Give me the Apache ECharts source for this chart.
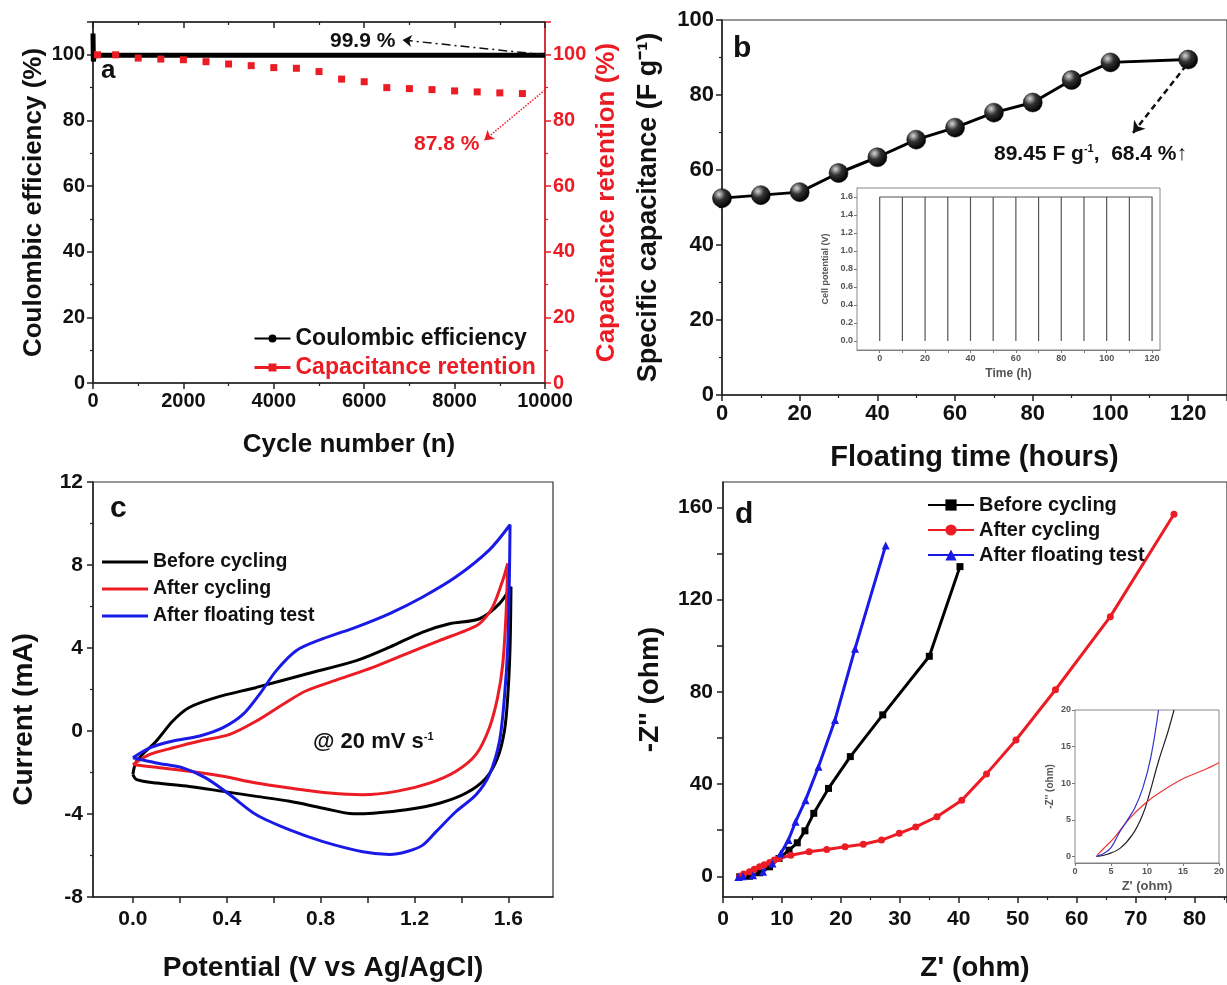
<!DOCTYPE html>
<html>
<head>
<meta charset="utf-8">
<script src="https://cdn.jsdelivr.net/npm/echarts@6/dist/echarts.min.js"></script>
<style>
  html, body { margin: 0; padding: 0; background: #fff; }
  #main { width: 1227px; height: 985px; }
</style>
</head>
<body>
<div id="main"></div>
<script>
// ---- panel a : cycling stability ----
var ceCycles = [0, 8, 30, 10000];
var ceValues = [106.5, 98, 99.9, 99.9];
var retCycles = [100, 500, 1000, 1500, 2000, 2500, 3000, 3500, 4000, 4500, 5000, 5500, 6000, 6500, 7000, 7500, 8000, 8500, 9000, 9500];
var retValues = [100, 100, 99.0, 98.7, 98.5, 97.9, 97.2, 96.7, 96.1, 95.9, 94.9, 92.6, 91.8, 90.0, 89.7, 89.4, 89.0, 88.7, 88.4, 88.2];

// ---- panel b : floating test ----
var floatHours = [0, 10, 20, 30, 40, 50, 60, 70, 80, 90, 100, 120];
var specCap = [52.5, 53.3, 54.1, 59.2, 63.4, 68.1, 71.3, 75.3, 78.0, 84.0, 88.7, 89.45];
var floatSteps = [0, 10, 20, 30, 40, 50, 60, 70, 80, 90, 100, 110, 120];
var cellHigh = 1.6, cellLow = 0;

// ---- panel c : CV at 20 mV/s  [potential V, current mA] ----
var cvBefore = [[0.0,-2.10],[0.016,-1.45],[0.10,-0.48],[0.17,0.48],[0.24,1.13],[0.356,1.62],[0.526,2.10],[0.739,2.75],[0.952,3.39],[1.094,4.04],[1.235,4.77],[1.349,5.17],[1.477,5.41],[1.562,6.14],[1.611,6.95],
  [1.607,4.04],[1.597,1.62],[1.583,0],[1.554,-1.29],[1.505,-2.26],[1.42,-2.99],[1.306,-3.48],[1.165,-3.80],[1.023,-3.96],[0.94,-3.99],[0.81,-3.72],[0.668,-3.39],[0.526,-3.15],[0.384,-2.91],[0.24,-2.67],[0.10,-2.51],[0.016,-2.34],[0.0,-2.10]];
var cvAfterCyc = [[0.0,-1.62],[0.072,-1.13],[0.171,-0.81],[0.285,-0.48],[0.413,-0.16],[0.526,0.48],[0.64,1.29],[0.739,1.94],[0.881,2.51],[1.023,3.07],[1.165,3.72],[1.306,4.36],[1.42,4.85],[1.477,5.17],[1.533,5.98],[1.576,7.27],[1.597,8.08],
  [1.59,5.66],[1.576,3.23],[1.554,1.62],[1.519,0.16],[1.462,-1.13],[1.377,-1.94],[1.264,-2.51],[1.122,-2.91],[0.98,-3.07],[0.838,-2.99],[0.668,-2.75],[0.526,-2.51],[0.384,-2.18],[0.24,-1.94],[0.10,-1.75],[0.0,-1.62]];
var cvAfterFloat = [[0.0,-1.29],[0.072,-0.81],[0.171,-0.48],[0.285,-0.24],[0.384,0.16],[0.47,0.81],[0.54,1.78],[0.611,2.91],[0.697,3.88],[0.81,4.45],[0.952,5.01],[1.094,5.66],[1.235,6.46],[1.377,7.43],[1.519,8.73],[1.607,9.94],
  [1.604,7.27],[1.597,4.04],[1.583,1.62],[1.562,-0.48],[1.519,-2.10],[1.462,-3.07],[1.377,-3.88],[1.292,-4.85],[1.235,-5.50],[1.165,-5.82],[1.094,-5.95],[0.98,-5.82],[0.81,-5.33],[0.668,-4.77],[0.526,-4.04],[0.413,-3.07],[0.31,-2.26],[0.213,-1.78],[0.10,-1.54],[0.0,-1.29]];

// ---- panel d : Nyquist  [Z' ohm, -Z'' ohm] ----
var eisBefore = [[2.8,-0.3],[4.5,0],[6.2,1.5],[7.9,4.1],[9.5,7.7],[11.2,11.3],[12.6,14.5],[13.9,19.7],[15.4,27.3],[17.9,38.1],[21.6,51.9],[27.1,70.0],[35.0,95.4],[40.2,134.3]];
var eisAfterCyc = [[2.8,0],[3.5,1],[4.5,1.9],[5.3,3],[6.2,4.1],[7,5],[7.9,6],[8.7,7],[9.5,7.7],[11.5,9.1],[14.6,10.6],[17.6,11.6],[20.7,12.8],[23.8,13.9],[26.9,15.7],[29.9,18.6],[32.7,21.4],[36.3,25.8],[40.5,33],[44.7,44.4],[49.7,59.1],[56.4,80.9],[65.7,112.6],[76.5,157]];
var eisAfterFloat = [[2.6,-0.3],[3.4,0],[5.1,0.4],[6.8,1.9],[8.4,5.5],[9.8,9.9],[11.1,15.7],[12.3,23.6],[14.0,33.0],[16.2,47.5],[19.0,67.8],[22.4,98.7],[27.6,143.5]];
var zoomBefore = [[3.1,0],[4.5,0.3],[6.25,1.1],[8.0,3.0],[9.4,5.7],[10.3,8.4],[11.6,13],[12.9,17],[13.75,20]];
var zoomAfterCyc = [[3.1,0.2],[4.2,1.3],[5.4,2.5],[7.6,5.2],[9.8,7.3],[12.05,8.9],[15.2,10.7],[17.9,11.8],[20,12.8]];
var zoomAfterFloat = [[2.9,0],[4,0.4],[5,1.2],[6.25,3.4],[7.3,5],[8.3,6.6],[9.4,9.3],[10.5,13.4],[11.6,20]];

var RED = '#ec1c24', BLUE = '#1a1ae6', BLK = '#000';
var FONT = '"Liberation Sans", Arial, sans-serif';

function merge(a, b) {
    var o = Object.assign({}, a);
    for (var k in b) {
        if (b[k] && typeof b[k] === 'object' && !Array.isArray(b[k]) && a[k] && typeof a[k] === 'object') o[k] = merge(a[k], b[k]);
        else o[k] = b[k];
    }
    return o;
}
var baseAxis = {
    type: 'value', splitLine: {show: false},
    axisLine: {show: true, onZero: false, lineStyle: {color: '#222', width: 1.5}},
    axisTick: {show: true, inside: false, length: 6, lineStyle: {color: '#222', width: 1.5}},
    axisLabel: {color: '#111', fontFamily: FONT, fontWeight: 'bold', fontSize: 20, margin: 8},
    nameLocation: 'middle',
    nameTextStyle: {color: '#111', fontFamily: FONT, fontWeight: 'bold', fontSize: 27}
};
function ax(o) { return merge(baseAxis, o); }
var minor2 = {show: true, splitNumber: 2, length: 3, lineStyle: {color: '#222', width: 1.2}};
var inset = {
    axisLine: {lineStyle: {color: '#777', width: 1}},
    axisTick: {length: 3, lineStyle: {color: '#777', width: 1}},
    axisLabel: {color: '#555', fontSize: 9, margin: 4},
    nameTextStyle: {color: '#555', fontSize: 10}
};
var fmt1 = function (v) { return v.toFixed(1); };
var plain = function (v) { return String(v); };

// inset b path: held at cellHigh, dipping to cellLow at every step
var floatPath = [];
floatSteps.forEach(function (t, i) {
    if (i === 0) { floatPath.push([t, cellLow], [t, cellHigh]); }
    else { floatPath.push([t, cellHigh], [t, cellLow], [t, cellHigh]); }
});

var sphere = new echarts.graphic.RadialGradient(0.35, 0.3, 0.7, [
    {offset: 0, color: '#d8d8d8'}, {offset: 0.45, color: '#333'}, {offset: 1, color: '#000'}]);

var option = {
    animation: false,
    backgroundColor: '#fff',
    grid: [
        {left: 93, top: 22, width: 452, height: 361, show: true, borderColor: '#333', borderWidth: 1.2},
        {left: 722, top: 20, width: 512, height: 375, show: true, borderColor: '#333', borderWidth: 1.2},
        {left: 93, top: 482, width: 460, height: 415, show: true, borderColor: '#333', borderWidth: 1.2},
        {left: 723, top: 482, width: 510, height: 415, show: true, borderColor: '#333', borderWidth: 1.2},
        {left: 857, top: 188, width: 303, height: 162, show: true, borderColor: '#888', borderWidth: 1, backgroundColor: '#fff', z: 3},
        {left: 1075, top: 710, width: 150, height: 153, show: true, borderColor: '#888', borderWidth: 1, backgroundColor: '#fff', z: 3}
    ],
    xAxis: [
        ax({gridIndex: 0, min: 0, max: 10000, interval: 2000, minorTick: minor2, axisLabel: {formatter: plain},
            name: 'Cycle number (n)', nameGap: 49, nameTextStyle: {fontSize: 26, padding: [0, 0, 0, 60]}}),
        ax({gridIndex: 0, position: 'top', min: 0, max: 10000, interval: 2000, minorTick: minor2, axisTick: {inside: true}, axisLabel: {show: false}}),
        ax({gridIndex: 1, min: 0, max: 130, interval: 20, minorTick: minor2, axisLabel: {customValues: [0, 20, 40, 60, 80, 100, 120], fontSize: 22},
            name: 'Floating time (hours)', nameGap: 48, nameTextStyle: {fontSize: 29}}),
        ax({gridIndex: 2, min: -0.17, max: 1.79, axisLabel: {customValues: [0, 0.4, 0.8, 1.2, 1.6], formatter: fmt1, fontSize: 21, margin: 12},
            axisTick: {customValues: [0, 0.2, 0.4, 0.6, 0.8, 1.0, 1.2, 1.4, 1.6]}, name: 'Potential (V vs Ag/AgCl)', nameGap: 57, nameTextStyle: {fontSize: 28}}),
        ax({gridIndex: 3, min: 0, max: 85.5, interval: 10, minorTick: minor2, axisLabel: {customValues: [0, 10, 20, 30, 40, 50, 60, 70, 80], fontSize: 21, margin: 12},
            name: "Z' (ohm)", nameGap: 57, nameTextStyle: {fontSize: 28}}),
        ax(merge(inset, {gridIndex: 4, min: -10, max: 123.5, axisLabel: {customValues: [0, 20, 40, 60, 80, 100, 120]},
            axisTick: {customValues: [0, 10, 20, 30, 40, 50, 60, 70, 80, 90, 100, 110, 120]}, name: 'Time (h)', nameGap: 18, nameTextStyle: {fontSize: 12}})),
        ax(merge(inset, {gridIndex: 5, min: 0, max: 20, interval: 5, axisLabel: {fontSize: 9}, name: "Z' (ohm)", nameGap: 17, nameTextStyle: {fontSize: 13}}))
    ],
    yAxis: [
        ax({gridIndex: 0, min: 0, max: 110, interval: 20, minorTick: minor2, axisLabel: {customValues: [0, 20, 40, 60, 80, 100]},
            name: 'Coulombic efficiency (%)', nameGap: 46, nameTextStyle: {fontSize: 26}}),
        ax({gridIndex: 0, position: 'right', min: 0, max: 110, interval: 20, minorTick: merge(minor2, {lineStyle: {color: RED}}),
            axisLine: {lineStyle: {color: RED}}, axisTick: {lineStyle: {color: RED}},
            axisLabel: {customValues: [0, 20, 40, 60, 80, 100], color: RED}, name: 'Capacitance retention (%)', nameRotate: 90, nameGap: 49,
            nameTextStyle: {color: RED, fontSize: 26}}),
        ax({gridIndex: 1, min: 0, max: 100, interval: 20, minorTick: minor2, axisLabel: {fontSize: 22},
            name: 'Specific capacitance (F g⁻¹)', nameGap: 60, nameTextStyle: {fontSize: 27}}),
        ax({gridIndex: 2, min: -8, max: 12, interval: 4, minorTick: minor2, axisLabel: {fontSize: 21, margin: 10},
            name: 'Current (mA)', nameGap: 55, nameTextStyle: {fontSize: 28, padding: [0, 60, 0, 0]}}),
        ax({gridIndex: 3, min: -9, max: 171, axisLabel: {customValues: [0, 40, 80, 120, 160], fontSize: 21, margin: 10},
            axisTick: {customValues: [0, 20, 40, 60, 80, 100, 120, 140, 160]}, name: "-Z'' (ohm)", nameGap: 59, nameTextStyle: {fontSize: 28}}),
        ax(merge(inset, {gridIndex: 4, min: -0.1, max: 1.7, axisLabel: {customValues: [0, 0.2, 0.4, 0.6, 0.8, 1.0, 1.2, 1.4, 1.6], formatter: fmt1},
            axisTick: {customValues: [0, 0.2, 0.4, 0.6, 0.8, 1.0, 1.2, 1.4, 1.6]}, name: 'Cell potential (V)', nameGap: 27, nameTextStyle: {fontSize: 9}})),
        ax(merge(inset, {gridIndex: 5, min: -0.9, max: 20, axisLabel: {customValues: [0, 5, 10, 15, 20]},
            axisTick: {customValues: [0, 5, 10, 15, 20]}, name: "-Z'' (ohm)", nameGap: 20, nameTextStyle: {fontSize: 10}}))
    ],
    legend: [
        {left: 248, top: 322, orient: 'vertical', itemGap: 6, itemWidth: 36, itemHeight: 10,
            textStyle: {fontFamily: FONT, fontWeight: 'bold', fontSize: 23, color: '#111'},
            data: [{name: 'Coulombic efficiency'},
                {name: 'Capacitance retention', textStyle: {color: RED}, lineStyle: {width: 3, color: RED, opacity: 1}}]},
        {left: 97, top: 547, orient: 'vertical', itemGap: 7, itemWidth: 46, itemHeight: 3, icon: 'rect',
            formatter: function (n) { return n.slice(2); },
            textStyle: {fontFamily: FONT, fontWeight: 'bold', fontSize: 19.5, color: '#111'},
            data: ['c-Before cycling', 'c-After cycling', 'c-After floating test']},
        {left: 922, top: 490, orient: 'vertical', itemGap: 5, itemWidth: 46, itemHeight: 14, formatter: function (n) { return n.slice(2); },
            textStyle: {fontFamily: FONT, fontWeight: 'bold', fontSize: 20, color: '#111'},
            data: ['d-Before cycling', 'd-After cycling', 'd-After floating test']}
    ],
    series: [
        {name: 'Coulombic efficiency', type: 'line', xAxisIndex: 0, yAxisIndex: 0, symbol: 'circle', symbolSize: 6, showSymbol: false,
            data: ceCycles.map(function (c, i) { return [c, ceValues[i]]; }),
            lineStyle: {color: BLK, width: 5}, itemStyle: {color: BLK},
            markLine: {silent: true, symbol: ['none', 'arrow'], symbolSize: 9, label: {show: false},
                lineStyle: {color: '#111', width: 1.5, type: [9, 4, 2, 4]},
                data: [[{coord: [10000, 100]}, {coord: [6850, 104.5]}]]}},
        {name: 'Capacitance retention', type: 'line', xAxisIndex: 0, yAxisIndex: 1, symbol: 'rect', symbolSize: 7,
            data: retCycles.map(function (c, i) { return [c, retValues[i]]; }),
            lineStyle: {width: 0, color: RED}, itemStyle: {color: RED},
            markLine: {silent: true, symbol: ['none', 'arrow'], symbolSize: 9, label: {show: false},
                lineStyle: {color: RED, width: 1.5, type: 'dotted'},
                data: [[{coord: [10000, 89.3]}, {coord: [8660, 74]}]]}},
        {name: 'Specific capacitance', type: 'line', xAxisIndex: 2, yAxisIndex: 2, symbol: 'circle', symbolSize: 19,
            data: floatHours.map(function (t, i) { return [t, specCap[i]]; }),
            lineStyle: {color: BLK, width: 3}, itemStyle: {color: sphere, borderColor: '#000', borderWidth: 0.5},
            markLine: {silent: true, symbol: ['none', 'arrow'], symbolSize: 11, label: {show: false},
                lineStyle: {color: '#111', width: 2.5, type: [6, 4]},
                data: [[{coord: [119.5, 87.9]}, {coord: [105.8, 69.9]}]]}},
        {name: 'Cell potential', type: 'line', xAxisIndex: 5, yAxisIndex: 5, symbol: 'none', z: 4,
            data: floatPath, lineStyle: {color: '#555', width: 1.2}},
        {name: 'c-Before cycling', type: 'line', xAxisIndex: 3, yAxisIndex: 3, symbol: 'none', smooth: 0.3,
            data: cvBefore, lineStyle: {color: BLK, width: 3}, itemStyle: {color: BLK}},
        {name: 'c-After cycling', type: 'line', xAxisIndex: 3, yAxisIndex: 3, symbol: 'none', smooth: 0.3,
            data: cvAfterCyc, lineStyle: {color: RED, width: 3}, itemStyle: {color: RED}},
        {name: 'c-After floating test', type: 'line', xAxisIndex: 3, yAxisIndex: 3, symbol: 'none', smooth: 0.3,
            data: cvAfterFloat, lineStyle: {color: BLUE, width: 3}, itemStyle: {color: BLUE}},
        {name: 'd-Before cycling', type: 'line', xAxisIndex: 4, yAxisIndex: 4, symbol: 'rect', symbolSize: 7,
            data: eisBefore, lineStyle: {color: BLK, width: 3}, itemStyle: {color: BLK}},
        {name: 'd-After cycling', type: 'line', xAxisIndex: 4, yAxisIndex: 4, symbol: 'circle', symbolSize: 7,
            data: eisAfterCyc, lineStyle: {color: RED, width: 3}, itemStyle: {color: RED}},
        {name: 'd-After floating test', type: 'line', xAxisIndex: 4, yAxisIndex: 4, symbol: 'triangle', symbolSize: 8,
            data: eisAfterFloat, lineStyle: {color: BLUE, width: 3}, itemStyle: {color: BLUE}},
        {name: 'zoom before', type: 'line', xAxisIndex: 6, yAxisIndex: 6, symbol: 'none', smooth: 0.4, z: 4,
            data: zoomBefore, lineStyle: {color: '#222', width: 1.2}},
        {name: 'zoom after cycling', type: 'line', xAxisIndex: 6, yAxisIndex: 6, symbol: 'none', smooth: 0.4, z: 4,
            data: zoomAfterCyc, lineStyle: {color: '#e33', width: 1.2}},
        {name: 'zoom after floating', type: 'line', xAxisIndex: 6, yAxisIndex: 6, symbol: 'none', smooth: 0.4, z: 4,
            data: zoomAfterFloat, lineStyle: {color: '#33c', width: 1.2}}
    ],
    graphic: [
        {type: 'text', left: 101, top: 58, style: {text: 'a', font: 'bold 26px ' + FONT, fill: '#111'}},
        {type: 'text', left: 330, top: 31, style: {text: '99.9 %', font: 'bold 21px ' + FONT, fill: '#111'}},
        {type: 'text', left: 414, top: 134, style: {text: '87.8 %', font: 'bold 21px ' + FONT, fill: RED}},
        {type: 'text', left: 733, top: 34, style: {text: 'b', font: 'bold 30px ' + FONT, fill: '#111'}},
        {type: 'text', left: 994, top: 143, style: {text: '{n|89.45 F g}{s|-1}{n|,  68.4 %↑}', fill: '#111',
            rich: {n: {font: 'bold 21px ' + FONT, fill: '#111'}, s: {font: 'bold 11px ' + FONT, fill: '#111', padding: [0, 0, 11, 0]}}}},
        {type: 'text', left: 110, top: 494, style: {text: 'c', font: 'bold 30px ' + FONT, fill: '#111'}},
        {type: 'text', left: 313, top: 731, style: {text: '{n|@ 20 mV s}{s|-1}', fill: '#111',
            rich: {n: {font: 'bold 22px ' + FONT, fill: '#111'}, s: {font: 'bold 11px ' + FONT, fill: '#111', padding: [0, 0, 11, 0]}}}},
        {type: 'text', left: 735, top: 500, style: {text: 'd', font: 'bold 30px ' + FONT, fill: '#111'}}
    ]
};

var myChart = echarts.init(document.getElementById('main'));
myChart.setOption(option);
</script>
</body>
</html>
